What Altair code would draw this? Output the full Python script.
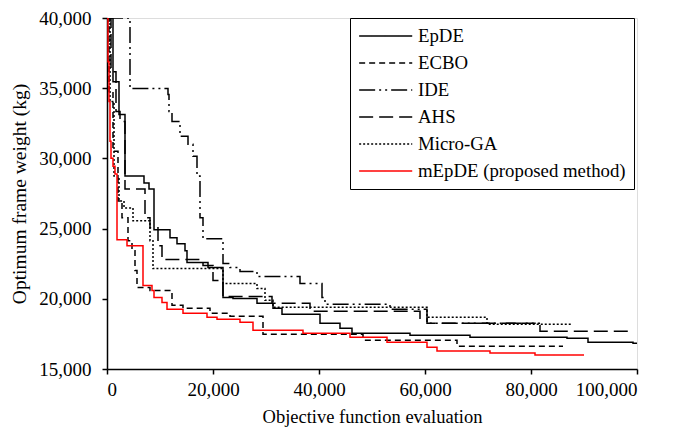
import altair as alt
import pandas as pd

SERIES = ["EpDE", "ECBO", "IDE", "AHS", "Micro-GA", "mEpDE (proposed method)"]

EPDE_X = [0, 1132, 2264, 3396, 6981, 7925, 8868, 11887, 13208, 14717, 15094, 19057, 21887, 23774, 28302, 31321, 33019, 40189, 43962, 46226, 57170, 68491, 86792, 90755, 99245, 100000]
EPDE_Y = [40000, 35468, 33130, 28740, 28244, 27819, 24915, 24349, 23924, 23428, 22578, 22224, 20100, 20030, 19675, 19321, 18896, 18258, 17904, 17550, 17409, 17267, 17196, 16913, 16842, 16842]

ECBO_X = [0, 377, 1132, 2075, 2830, 3962, 4717, 5283, 5660, 8113, 12264, 14340, 19434, 23208, 29434, 48302, 66038, 86038]
ECBO_Y = [40000, 34760, 30510, 26970, 25765, 24137, 23428, 22012, 20808, 20595, 19533, 19321, 18967, 18754, 17479, 17054, 16629, 16629]

IDE_X = [0, 4340, 11509, 11698, 12264, 13774, 15283, 16226, 16981, 17547, 18113, 21887, 23208, 25094, 28302, 36415, 40566, 41132, 53396, 60377, 81698]
IDE_Y = [40000, 34972, 34547, 33343, 32635, 31572, 31005, 30156, 28740, 25765, 24278, 22507, 22224, 21941, 21587, 21091, 20100, 19604, 19250, 18258, 18258]

AHS_X = [0, 755, 1698, 2453, 3396, 7170, 8113, 9623, 10377, 18113, 20000, 21887, 31132, 38302, 59057, 60377, 81698, 98302]
AHS_Y = [40000, 36176, 33343, 32635, 27819, 25765, 25057, 23782, 22791, 22366, 21303, 20170, 19675, 19109, 18612, 18258, 17691, 17691]

MGA_X = [0, 566, 1321, 2264, 3208, 4906, 8113, 8679, 21887, 28302, 29811, 31321, 60377, 71698, 87736]
MGA_Y = [40000, 34051, 28740, 26970, 26474, 25553, 24137, 22153, 21091, 20737, 19888, 19392, 18683, 18187, 18187]

MEPDE_X = [0, 189, 377, 566, 755, 1132, 1509, 1887, 3774, 6792, 8491, 8868, 10377, 11321, 14340, 18868, 20755, 25094, 27547, 36981, 45849, 52830, 60377, 62264, 72264, 80755, 90000]
MEPDE_Y = [40000, 36884, 34051, 31218, 30015, 29448, 28881, 24208, 23782, 20949, 20595, 20100, 19745, 19250, 18967, 18683, 18541, 18329, 17762, 17550, 17267, 16913, 16558, 16275, 16133, 15992, 15992]

XS = [EPDE_X, ECBO_X, IDE_X, AHS_X, MGA_X, MEPDE_X]
YS = [EPDE_Y, ECBO_Y, IDE_Y, AHS_Y, MGA_Y, MEPDE_Y]

rows = []
for name, xs, ys in zip(SERIES, XS, YS):
    for i, (x, y) in enumerate(zip(xs, ys)):
        rows.append({"series": name, "evals": x, "weight": y, "order": i})
df = pd.DataFrame(rows)

FONT = "Liberation Serif"

LEG = dict(title=None, orient="none", legendX=243, legendY=0,
           symbolType="M-1,0H5", symbolSize=313, labelFont=FONT,
           labelFontSize=18.8, labelColor="black", labelLimit=400, strokeColor="black",
           padding=8, rowPadding=7, labelOffset=40,
           fillColor="white", cornerRadius=0)

chart = alt.Chart(df).mark_line(interpolate="step-after", clip=True).encode(
    x=alt.X("evals:Q", scale=alt.Scale(domain=[0, 100000], nice=False),
            axis=alt.Axis(title="Objective function evaluation", values=[0, 20000, 40000, 60000, 80000, 100000],
                          format=",.0f", grid=False, domainColor="black", domainWidth=1.5,
                          tickColor="black", tickWidth=1.5, tickSize=5, labelPadding=6,
                          labelFont=FONT, labelFontSize=19, labelColor="black",
                          titleFont=FONT, titleFontSize=18.5, titleFontWeight="normal",
                          titleColor="black", titlePadding=8)),
    y=alt.Y("weight:Q", scale=alt.Scale(domain=[15000, 40000], nice=False, zero=False),
            axis=alt.Axis(title="Optimum frame weight (kg)", values=[15000, 20000, 25000, 30000, 35000, 40000],
                          format=",.0f", grid=False, domainColor="black", domainWidth=1.5,
                          tickColor="black", tickWidth=1.5, tickSize=5, labelPadding=11,
                          labelFont=FONT, labelFontSize=19, labelColor="black",
                          titleFont=FONT, titleFontSize=19.5, titleFontWeight="normal",
                          titleColor="black", titlePadding=9)),
    color=alt.Color("series:N",
                    scale=alt.Scale(domain=SERIES, range=["black", "black", "black", "black", "black", "#ff0000"]),
                    legend=alt.Legend(**LEG)),
    strokeDash=alt.StrokeDash("series:N",
                              scale=alt.Scale(domain=SERIES,
                                              range=[[1, 0], [6, 4], [16, 4, 2, 4, 2, 4], [14, 6], [2, 2], [1, 0]]),
                              legend=alt.Legend(**LEG)),
    strokeWidth=alt.StrokeWidth("series:N",
                                scale=alt.Scale(domain=SERIES, range=[1.5, 1.5, 1.5, 1.5, 1.2, 3]),
                                legend=alt.Legend(**LEG)),
    order="order:Q",
).properties(
    width=530, height=351,
    autosize=alt.AutoSizeParams(type="none"),
    padding={"left": 99, "top": 10, "right": 41, "bottom": 60},
).configure_view(
    stroke="black", strokeWidth=1.5
).configure(background="white")

chart.save("out.html", embed_options={"renderer": "svg", "actions": False})
